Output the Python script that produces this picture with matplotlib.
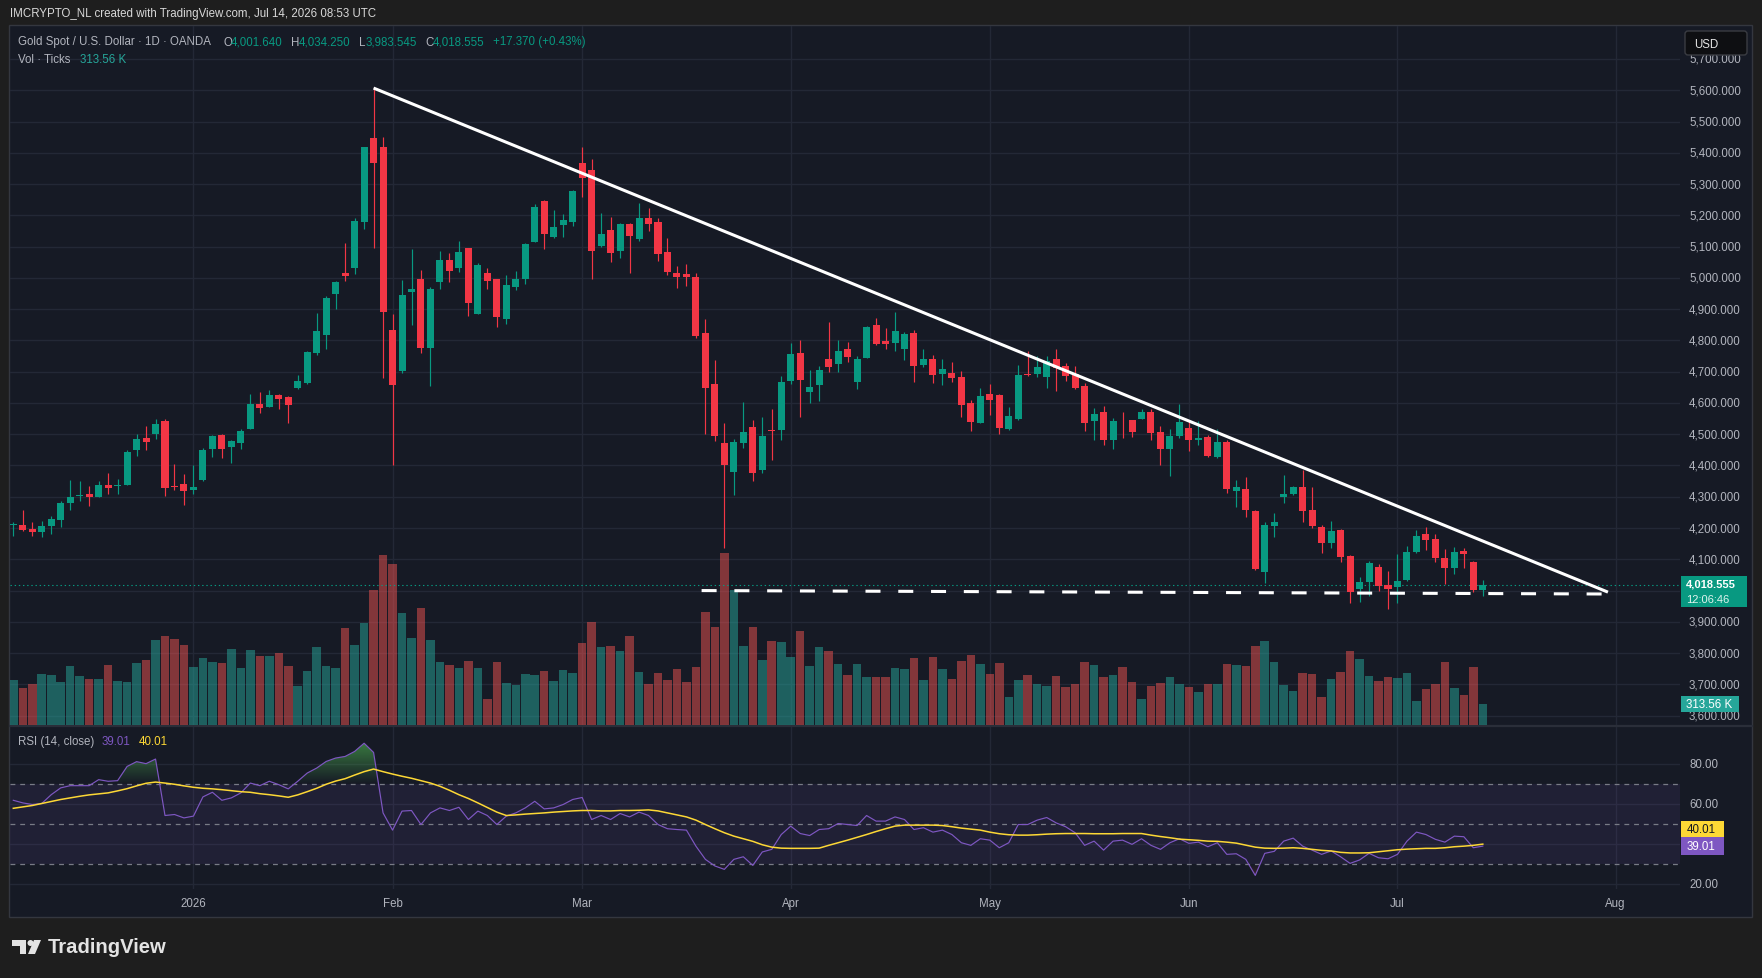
import numpy as np
import matplotlib
matplotlib.use("Agg")
import matplotlib.pyplot as plt
from matplotlib.patches import Rectangle, Polygon, Circle, FancyBboxPatch
from matplotlib.colors import LinearSegmentedColormap
from matplotlib.path import Path

plt.rcParams['font.family'] = ['Liberation Sans', 'DejaVu Sans']
plt.rcParams['lines.scale_dashes'] = False

# ---------------- data (daily bars, index 0 = first visible bar) ----------------
opens = [4209, 4210, 4197, 4188, 4208, 4227, 4281, 4303, 4309, 4300,
         4338, 4336, 4338, 4448, 4488, 4501, 4542, 4332, 4341, 4322,
         4354, 4453, 4498, 4459, 4472, 4517, 4597, 4587, 4626, 4619,
         4648, 4664, 4760, 4816, 4949, 5016, 5031, 5180, 5447, 5418,
         4833, 4702, 4955, 4996, 4776, 4986, 5057, 5031, 5096, 4885,
         5016, 4996, 4869, 4971, 4996, 5115, 5246, 5130, 5169, 5178,
         5367, 5345, 5102, 5153, 5086, 5172, 5124, 5192, 5178, 5083,
         5016, 5013, 5003, 4824, 4660, 4472, 4380, 4473, 4523, 4387,
         4513, 4514, 4671, 4760, 4635, 4657, 4741, 4725, 4772, 4667,
         4744, 4849, 4798, 4792, 4772, 4824, 4722, 4741, 4693, 4696,
         4683, 4600, 4537, 4629, 4625, 4518, 4550, 4690, 4693, 4683,
         4741, 4718, 4693, 4654, 4543, 4571, 4483, 4546, 4545, 4550,
         4571, 4507, 4454, 4495, 4520, 4483, 4491, 4427, 4475, 4319,
         4325, 4254, 4059, 4206, 4299, 4309, 4331, 4258, 4203, 4152,
         4194, 4110, 4005, 4027, 4075, 4018, 4011, 4034, 4123, 4181,
         4165, 4104, 4072, 4127, 4091, 4001.640]
highs = [4218, 4258, 4218, 4223, 4239, 4287, 4354, 4350, 4335, 4350,
         4376, 4357, 4450, 4501, 4526, 4549, 4549, 4405, 4373, 4402,
         4456, 4498, 4501, 4480, 4517, 4629, 4635, 4642, 4629, 4622,
         4689, 4766, 4888, 4942, 4990, 5112, 5190, 5420, 5609, 5450,
         4884, 4993, 5092, 5025, 4971, 5086, 5079, 5118, 5096, 5048,
         5032, 4996, 5009, 5022, 5110, 5236, 5249, 5217, 5204, 5281,
         5418, 5380, 5207, 5195, 5176, 5175, 5240, 5224, 5192, 5128,
         5038, 5045, 5016, 4869, 4737, 4536, 4485, 4603, 4546, 4555,
         4581, 4685, 4792, 4801, 4705, 4718, 4859, 4801, 4795, 4750,
         4846, 4872, 4840, 4891, 4827, 4833, 4772, 4753, 4741, 4731,
         4702, 4610, 4648, 4661, 4629, 4587, 4721, 4766, 4750, 4750,
         4772, 4728, 4718, 4664, 4584, 4590, 4552, 4571, 4546, 4581,
         4581, 4526, 4517, 4597, 4546, 4542, 4497, 4517, 4482, 4354,
         4363, 4258, 4219, 4248, 4370, 4333, 4386, 4331, 4210, 4222,
         4197, 4114, 4043, 4095, 4085, 4063, 4117, 4143, 4194, 4203,
         4181, 4133, 4139, 4136, 4095, 4034.250]
lows = [4176, 4192, 4176, 4172, 4182, 4204, 4259, 4288, 4272, 4299,
        4310, 4310, 4337, 4430, 4450, 4485, 4303, 4322, 4274, 4309,
        4350, 4427, 4424, 4408, 4453, 4517, 4569, 4587, 4580, 4536,
        4645, 4661, 4753, 4772, 4901, 4990, 5012, 5156, 5096, 4680,
        4401, 4696, 4849, 4760, 4654, 4964, 4986, 5019, 4878, 4884,
        4964, 4843, 4853, 4961, 4980, 5115, 5092, 5127, 5130, 5166,
        5259, 4996, 5100, 5051, 5064, 5016, 5118, 5150, 5054, 5009,
        4968, 4974, 4808, 4501, 4478, 4135, 4306, 4457, 4351, 4377,
        4419, 4483, 4661, 4556, 4600, 4606, 4699, 4699, 4731, 4645,
        4744, 4785, 4772, 4766, 4737, 4667, 4715, 4664, 4657, 4667,
        4555, 4510, 4537, 4561, 4502, 4514, 4547, 4687, 4683, 4648,
        4638, 4670, 4645, 4511, 4483, 4467, 4454, 4489, 4492, 4549,
        4483, 4403, 4368, 4489, 4447, 4464, 4427, 4424, 4312, 4267,
        4236, 4066, 4024, 4171, 4280, 4306, 4219, 4200, 4120, 4136,
        4091, 3960, 3963, 3983, 3999, 3941, 3960, 4031, 4120, 4130,
        4091, 4021, 4053, 4072, 3995, 3983.545]
closes = [4211, 4195, 4188, 4207, 4229, 4280, 4299, 4305, 4300, 4338,
          4328, 4338, 4443, 4485, 4475, 4533, 4328, 4330, 4319, 4331,
          4450, 4494, 4453, 4478, 4510, 4597, 4584, 4626, 4613, 4594,
          4670, 4763, 4830, 4936, 4987, 5006, 5182, 5418, 5367, 4891,
          4657, 4945, 4964, 4776, 4964, 5057, 5022, 5083, 4920, 5041,
          4990, 4875, 4977, 4996, 5108, 5227, 5140, 5163, 5185, 5278,
          5319, 5086, 5140, 5080, 5172, 5134, 5192, 5172, 5076, 5019,
          5003, 5003, 4814, 4648, 4494, 4401, 4475, 4507, 4377, 4494,
          4511, 4667, 4757, 4675, 4651, 4705, 4715, 4766, 4747, 4741,
          4843, 4789, 4789, 4830, 4821, 4718, 4741, 4689, 4709, 4680,
          4594, 4540, 4622, 4611, 4521, 4558, 4689, 4688, 4715, 4734,
          4712, 4686, 4648, 4537, 4565, 4480, 4542, 4544, 4508, 4571,
          4505, 4454, 4494, 4539, 4483, 4488, 4430, 4475, 4325, 4331,
          4258, 4069, 4210, 4219, 4309, 4331, 4254, 4206, 4152, 4190,
          4107, 3995, 4027, 4088, 4015, 4005, 4031, 4123, 4175, 4162,
          4104, 4072, 4123, 4117, 4001.185, 4018.555]
volumes_k = [672, 552, 612, 761, 747, 642, 881, 732, 687, 687,
             896, 657, 642, 926, 970, 1269, 1329, 1284, 1194, 866,
             1000, 941, 926, 1135, 851, 1120, 1030, 1030, 1075, 881,
             582, 806, 1165, 881, 851, 1448, 1194, 1523, 2016, 2538,
             2404, 1672, 1299, 1747, 1269, 941, 896, 851, 956, 851,
             388, 941, 627, 597, 761, 747, 806, 657, 821, 776,
             1224, 1538, 1165, 1179, 1105, 1329, 791, 612, 776, 672,
             836, 642, 866, 1687, 1463, 2568, 2016, 1179, 1463, 970,
             1254, 1239, 1015, 1403, 881, 1165, 1105, 911, 747, 911,
             717, 717, 717, 851, 836, 1000, 672, 1015, 836, 687,
             956, 1045, 911, 761, 926, 418, 672, 747, 612, 582,
             732, 567, 612, 941, 896, 717, 747, 866, 642, 388,
             582, 627, 717, 612, 567, 493, 612, 612, 911, 896,
             881, 1179, 1254, 941, 597, 508, 776, 761, 418, 687,
             791, 1105, 985, 732, 657, 717, 702, 776, 358, 537,
             612, 941, 552, 448, 866, 313.56]
rsi = [61.9, 60.6, 59.8, 60.3, 64.7, 68.1, 69.2, 69.2, 69.2, 72.2,
       71.4, 71.7, 78.8, 81.2, 80.2, 82.5, 54.3, 54.8, 53.1, 54.0,
       63.6, 65.9, 61.9, 63.1, 65.6, 70.5, 69.2, 71.4, 69.7, 67.6,
       71.4, 75.5, 78.0, 81.3, 83.0, 83.8, 86.3, 90.4, 85.8, 55.6,
       47.0, 56.5, 56.8, 49.8, 55.6, 58.1, 56.8, 58.4, 52.3, 56.5,
       54.3, 49.8, 54.0, 55.6, 58.1, 61.4, 57.6, 58.1, 59.8, 62.3,
       63.3, 52.3, 54.3, 52.3, 55.3, 53.6, 56.0, 54.3, 49.8, 47.7,
       47.3, 47.0, 39.0, 32.4, 29.1, 27.4, 32.4, 33.7, 29.4, 36.1,
       37.4, 44.8, 49.0, 45.3, 44.3, 47.3, 47.7, 50.3, 49.8, 49.3,
       54.3, 51.5, 51.5, 53.6, 52.3, 47.3, 48.2, 46.0, 47.0, 44.8,
       40.7, 39.4, 42.7, 42.0, 38.2, 40.7, 49.8, 49.8, 52.0, 53.3,
       50.6, 48.7, 45.7, 39.4, 41.5, 37.0, 41.5, 42.0, 39.9, 42.7,
       39.4, 37.4, 40.7, 42.7, 40.4, 41.0, 38.7, 40.7, 34.9, 35.2,
       32.4, 24.4, 35.4, 36.4, 41.5, 43.0, 39.0, 37.0, 34.9, 36.6,
       33.7, 30.4, 32.1, 35.4, 33.2, 32.7, 34.9, 41.5, 46.0, 44.8,
       42.4, 41.0, 44.0, 43.7, 38.2, 39.01]
rsi_ma = [57.9, 58.6, 59.3, 60.3, 61.3, 62.3, 63.1, 63.9, 64.6, 65.1,
          65.6, 66.6, 67.7, 69.1, 70.4, 71.0, 70.5, 69.9, 69.1, 68.4,
          67.9, 67.6, 67.2, 66.7, 66.2, 65.9, 65.2, 64.7, 64.1, 63.4,
          64.6, 66.2, 67.9, 69.9, 71.5, 72.7, 74.5, 76.2, 77.5, 76.2,
          75.0, 73.9, 72.9, 71.7, 70.5, 68.9, 66.9, 64.7, 62.8, 60.6,
          58.3, 56.0, 54.3, 54.6, 55.0, 55.3, 55.6, 56.0, 56.3, 56.6,
          56.8, 56.8, 56.6, 56.6, 56.8, 56.8, 56.9, 57.1, 56.6, 55.6,
          54.6, 53.6, 52.0, 49.8, 47.7, 45.7, 44.0, 42.7, 41.4, 39.7,
          38.5, 38.0, 37.9, 37.9, 37.9, 38.0, 39.4, 40.7, 42.0, 43.4,
          44.8, 46.3, 47.7, 49.0, 49.5, 49.5, 49.5, 49.5, 49.3, 48.7,
          48.0, 47.5, 47.0, 46.0, 45.2, 44.7, 44.5, 44.5, 44.7, 45.0,
          45.2, 45.3, 45.3, 45.3, 45.2, 45.2, 45.2, 45.3, 45.3, 45.3,
          44.5, 43.8, 43.2, 42.5, 42.2, 41.9, 41.5, 41.4, 41.0, 40.5,
          39.5, 38.5, 38.0, 37.9, 38.0, 38.2, 37.9, 37.4, 36.9, 36.6,
          35.9, 35.6, 35.6, 35.7, 36.2, 36.7, 37.2, 37.5, 37.7, 37.9,
          37.9, 38.2, 38.7, 39.0, 39.4, 40.01]
month_labels = ['2026', 'Feb', 'Mar', 'Apr', 'May', 'Jun', 'Jul', 'Aug']
month_bars = [19, 40, 60, 82, 103, 124, 146, 169]
price_ticks = list(range(3600, 5800, 100))
rsi_grid_levels = [20, 40, 60, 80]
rsi_band_levels = [30, 50, 70]
trend_bars = [38, 168.2]
trend_prices = [5607, 3995]
support_bars = [72.6, 168.2]
support_prices = [4000, 3989]
countdown = "12:06:46"

# ---------------- styling / layout ----------------
W, H = 1762, 979
BG_OUT = '#1e1e1e'
BG = '#161a25'
GRID = '#232836'
TXT = '#b2b5be'
UP = '#089981'
DN = '#f23645'
VUP = (38/255, 166/255, 154/255, 0.5)
VDN = (239/255, 83/255, 80/255, 0.5)
PURPLE = '#7e57c2'
YELLOW = '#fdd835'
FS = 8.3

XMIN, XMAX = -0.35, 175.8
PMIN, PMAX = 3570.1, 5805.5
VTOP = 10437
RMIN, RMAX = 17.6, 98.5

fig = plt.figure(figsize=(W / 100, H / 100), dpi=100, facecolor=BG_OUT)


def rect(x0, y0, x1, y1):
    return [x0 / W, 1 - y1 / H, (x1 - x0) / W, (y1 - y0) / H]


def pix_axes(z):
    a = fig.add_axes([0, 0, 1, 1])
    a.set_xlim(0, W)
    a.set_ylim(H, 0)
    a.axis('off')
    a.set_zorder(z)
    return a


ax_bg = pix_axes(0)
ax_bg.add_patch(Rectangle((9, 26), 1743, 892, fc=BG, ec='#34373f', lw=1.0))
ax_bg.plot([9.5, 1751.5], [727, 727], color='#2a2e39', lw=1.6)

O = np.array(opens, float)
Hh = np.array(highs, float)
L = np.array(lows, float)
C = np.array(closes, float)
V = np.array(volumes_k, float)
R = np.array(rsi, float)
RM = np.array(rsi_ma, float)
xs = np.arange(len(C))
up = C >= O

# grid layer
ax_grid = fig.add_axes(rect(10, 27, 1680, 726))
ax_grid.set_zorder(1)
ax_grid.axis('off')
ax_grid.set_xlim(XMIN, XMAX)
ax_grid.set_ylim(PMIN, PMAX)
for p in price_ticks:
    ax_grid.axhline(p, color=GRID, lw=1.0)
for m in month_bars:
    ax_grid.axvline(m, color=GRID, lw=1.0)

# volume layer
ax_vol = fig.add_axes(rect(10, 27, 1680, 726))
ax_vol.set_zorder(2)
ax_vol.axis('off')
ax_vol.set_xlim(XMIN, XMAX)
ax_vol.set_ylim(0, VTOP)
ax_vol.bar(xs, V, 0.9, color=[VUP if u else VDN for u in up], lw=0)

# price layer
ax = fig.add_axes(rect(10, 27, 1680, 726))
ax.set_zorder(3)
ax.axis('off')
ax.set_xlim(XMIN, XMAX)
ax.set_ylim(PMIN, PMAX)
cols = np.where(up, UP, DN)
ax.vlines(xs, L, Hh, colors=cols, lw=0.85, zorder=3)
bot = np.minimum(O, C)
hgt = np.maximum(np.abs(C - O), 3.0)
ax.bar(xs, hgt, 0.74, bottom=bot, color=cols, lw=0, zorder=4)
ax.axhline(C[-1], color=UP, lw=0.8, ls=(0, (1, 2)), zorder=2)
ax.plot(trend_bars, trend_prices, color='white', lw=2.2, solid_capstyle='butt', zorder=6)
ax.plot(support_bars, support_prices, color='white', lw=2.2, dashes=(10.8, 12.8),
        dash_capstyle='butt', zorder=6)

# RSI pane
ar = fig.add_axes(rect(10, 728, 1680, 890))
ar.set_zorder(3)
ar.axis('off')
ar.set_xlim(XMIN, XMAX)
ar.set_ylim(RMIN, RMAX)
for lv in rsi_grid_levels:
    ar.axhline(lv, color=GRID, lw=1.0, zorder=0)
for m in month_bars:
    ar.axvline(m, color=GRID, lw=1.0, zorder=0)
ar.axhspan(rsi_band_levels[0], rsi_band_levels[-1], color=PURPLE, alpha=0.1, lw=0, zorder=1)
for lv in rsi_band_levels:
    ar.axhline(lv, color='#787b86', lw=0.9, dashes=(3.5, 3.5), zorder=1.5)


def grad_fill(a, x, y, base, lim, rgb, above=True):
    where = (y > base) if above else (y < base)
    if not where.any():
        return
    coll = a.fill_between(x, base, y, where=where, interpolate=True,
                          facecolor='none', edgecolor='none')
    paths = coll.get_paths()
    if not paths:
        return
    comp = Path.make_compound_path(*paths)
    cmap = LinearSegmentedColormap.from_list('g', [(*rgb, 0.0), (*rgb, 0.95)])
    grad = np.linspace(0, 1, 256).reshape(-1, 1)
    if not above:
        grad = grad[::-1]
    y0, y1 = (base, lim) if above else (lim, base)
    im = a.imshow(grad, extent=[x.min(), x.max(), y0, y1], origin='lower',
                  aspect='auto', cmap=cmap, zorder=2, interpolation='bilinear')
    im.set_clip_path(comp, transform=a.transData)


grad_fill(ar, xs.astype(float), R, 70, 100, (0.30, 0.69, 0.31), above=True)
grad_fill(ar, xs.astype(float), R, 30, 0, (1.0, 0.32, 0.32), above=False)
ar.set_xlim(XMIN, XMAX)
ar.set_ylim(RMIN, RMAX)
ar.set_aspect('auto')
ar.plot(xs, R, color=PURPLE, lw=0.85, zorder=3)
ar.plot(xs, RM, color=YELLOW, lw=1.1, zorder=4)

# ---------------- overlay: texts and labels ----------------
top = pix_axes(10)


def to_px(a, x, y):
    X, Y = a.transData.transform((x, y))
    return X, H - Y


# current price box geometry (the price-scale label it covers is hidden, as in TradingView)
_, yc = to_px(ax, 0, C[-1])
box_top, box_bot = yc - 9, yc + 22

# price scale labels
for p in price_ticks:
    _, yp = to_px(ax, 0, p)
    if box_top - 4 < yp < box_bot + 4:
        continue
    top.text(1689, yp, f"{p:,.3f}", color=TXT, fontsize=FS, ha='left', va='center')

# time labels
for lab, m in zip(month_labels, month_bars):
    xp, _ = to_px(ar, m, 50)
    top.text(xp, 904.5, lab, color=TXT, fontsize=FS, ha='center', va='center')

# current price box
top.add_patch(Rectangle((1681, box_top), 66, box_bot - box_top, fc=UP, ec='none', zorder=5))
top.text(1686, yc - 1, f"{C[-1]:,.3f}", color='white', fontsize=8.0, fontweight='bold',
         ha='left', va='center', zorder=6)
top.text(1686, yc + 13.8, countdown, color='#dff3ee', fontsize=8.0, ha='left', va='center', zorder=6)

# volume box
_, yv = to_px(ax_vol, 0, V[-1])
top.add_patch(Rectangle((1681, yv - 8), 58, 16, fc='#26a69a', ec='none', zorder=5))
top.text(1686, yv, f"{V[-1]:.2f} K", color='white', fontsize=FS, ha='left', va='center', zorder=6)

# RSI boxes
_, yr = to_px(ar, 0, R[-1])
top.add_patch(Rectangle((1681, yr - 9), 43, 18, fc=PURPLE, ec='none', zorder=5))
top.text(1687, yr, f"{R[-1]:.2f}", color='white', fontsize=FS, ha='left', va='center', zorder=6)
top.add_patch(Rectangle((1681, yr - 25), 43, 16, fc=YELLOW, ec='none', zorder=5))
top.text(1687, yr - 17, f"{RM[-1]:.2f}", color='#131722', fontsize=FS, ha='left', va='center', zorder=6)

# RSI scale labels
for lv in rsi_grid_levels:
    _, yl = to_px(ar, 0, lv)
    top.text(1689, yl, f"{lv:.2f}", color=TXT, fontsize=FS, ha='left', va='center')

# USD box
top.add_patch(FancyBboxPatch((1685, 32), 62, 24, boxstyle='round,pad=0,rounding_size=3',
                             fc='#0e0f12', ec='#3a3c42', lw=1, zorder=5))
top.text(1694, 44.5, 'USD', color='#e6e6e6', fontsize=FS, ha='left', va='center', zorder=6)

# header
top.text(10, 14.5, "IMCRYPTO_NL created with TradingView.com, Jul 14, 2026 08:53 UTC",
         color='#d8d8d8', fontsize=FS, ha='left', va='center')

# legend line 1
y1 = 42.5
top.text(18, y1, "Gold Spot / U.S. Dollar · 1D · OANDA", color=TXT, fontsize=FS, va='center')
chg = C[-1] - C[-2]
pct = chg / C[-2] * 100
segs = [(224, "O", TXT), (231, f"{O[-1]:,.3f}", UP),
        (291, "H", TXT), (299, f"{Hh[-1]:,.3f}", UP),
        (359, "L", TXT), (366, f"{L[-1]:,.3f}", UP),
        (425, "C", TXT), (433, f"{C[-1]:,.3f}", UP),
        (493, f"{chg:+.3f} ({pct:+.2f}%)", UP)]
for xp, s, c in segs:
    top.text(xp, y1, s, color=c, fontsize=FS, va='center')
top.text(18, 60, "Vol · Ticks", color=TXT, fontsize=FS, va='center')
top.text(80, 60, f"{V[-1]:.2f} K", color='#26a69a', fontsize=FS, va='center')

# RSI legend
top.text(18, 742, "RSI (14, close)", color=TXT, fontsize=FS, va='center')
top.text(102, 742, f"{R[-1]:.2f}", color=PURPLE, fontsize=FS, va='center')
top.text(138.5, 742, f"{RM[-1]:.2f}", color=YELLOW, fontsize=FS, va='center')

# TradingView logo
LOGO = '#e3e3e3'
top.add_patch(Polygon([(12, 941), (26, 941), (26, 955), (20, 955), (20, 947), (12, 947)],
                      closed=True, fc=LOGO, ec='none'))
top.add_patch(Circle((30.5, 944), 3.0, fc=LOGO, ec='none'))
top.add_patch(Polygon([(34, 941), (41, 941), (35, 955), (28, 955)], closed=True, fc=LOGO, ec='none'))
top.text(48, 948, "TradingView", color=LOGO, fontsize=14.6, fontweight='bold', ha='left', va='center')

fig.savefig('out.png', dpi=100, facecolor=BG_OUT)
